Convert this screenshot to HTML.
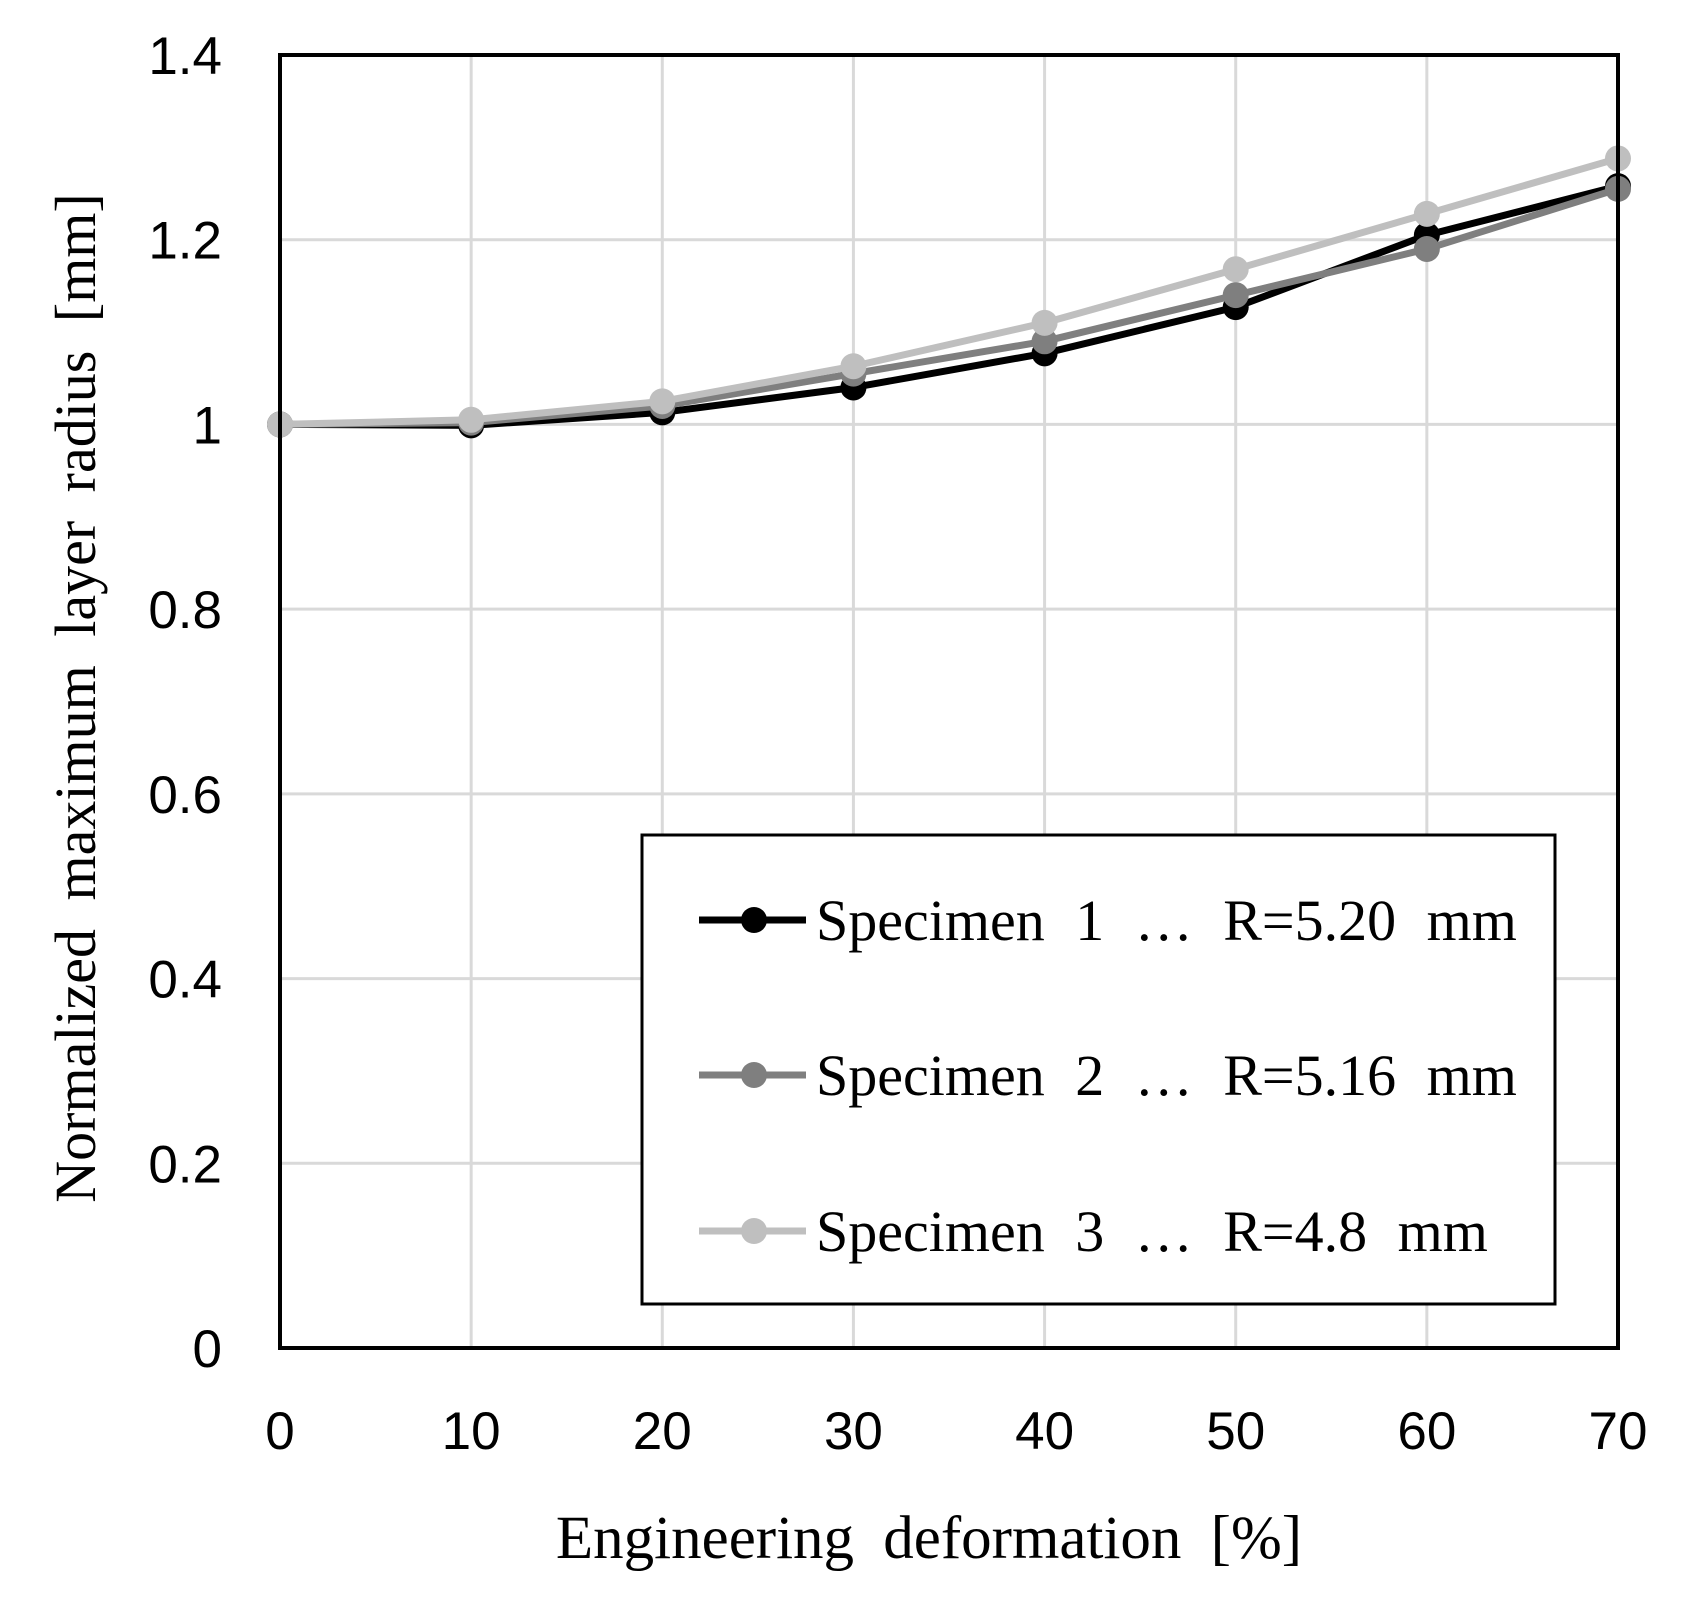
<!DOCTYPE html>
<html><head><meta charset="utf-8"><style>
html,body{margin:0;padding:0;background:#fff;}
svg{display:block;}
</style></head><body>
<svg id="chart" width="1682" height="1597" viewBox="0 0 1682 1597" xmlns="http://www.w3.org/2000/svg">
<g id="grid"></g>
<g id="series"></g>
<rect x="280" y="55" width="1338" height="1293" fill="none" stroke="#000" stroke-width="4"/>
<g id="ticks"></g>
<text x="929" y="1558" text-anchor="middle" font-family="Liberation Serif, serif" font-size="61" word-spacing="14">Engineering deformation [%]</text>
<text transform="translate(95,698) rotate(-90)" text-anchor="middle" font-family="Liberation Serif, serif" font-size="58" word-spacing="14">Normalized maximum layer radius [mm]</text>
<g>
<rect x="642" y="835" width="913" height="469" fill="#fff" stroke="#000" stroke-width="3"/>
<g id="legend-entries"></g>
</g>
</svg>
<script>
const categories=[0,10,20,30,40,50,60,70];
const yTicks=[0,0.2,0.4,0.6,0.8,1,1.2,1.4];
const yTickLabels=["0","0.2","0.4","0.6","0.8","1","1.2","1.4"];
const s1=[1,0.999,1.013,1.04,1.077,1.127,1.205,1.258];
const s2=[1,1.002,1.02,1.055,1.09,1.14,1.19,1.255];
const s3=[1,1.005,1.025,1.063,1.11,1.168,1.228,1.288];
const seriesNames=["Specimen 1 … R=5.20 mm","Specimen 2 … R=5.16 mm","Specimen 3 … R=4.8 mm"];
const NS="http://www.w3.org/2000/svg";
const L=280,R=1618,T=55,B=1348;
const xs=v=>L+(v-0)/(70-0)*(R-L);
const ys=v=>B-(v-0)/(1.4-0)*(B-T);
function mk(tag,attrs,parent){const e=document.createElementNS(NS,tag);for(const k in attrs)e.setAttribute(k,attrs[k]);parent.appendChild(e);return e;}
const grid=document.getElementById('grid'),ticks=document.getElementById('ticks');
categories.forEach(c=>{
 const l=mk('line',{x1:xs(c),x2:xs(c),y1:T,y2:B,stroke:'#d9d9d9','stroke-width':3},grid);
 
 
 const t=mk('text',{x:xs(c),y:1449,'text-anchor':'middle','font-family':'Liberation Sans, sans-serif','font-size':53},ticks);
 t.textContent=String(c);
 
 
});
yTicks.forEach((v,i)=>{
 const l=mk('line',{x1:L,x2:R,y1:ys(v),y2:ys(v),stroke:'#d9d9d9','stroke-width':3},grid);
 
 
 const t=mk('text',{x:222,y:ys(v)+19,'text-anchor':'end','font-family':'Liberation Sans, sans-serif','font-size':53},ticks);
 t.textContent=yTickLabels[i];
 
 
});
const allSeries=[s1,s2,s3];
const colors=['#000000','#7f7f7f','#bfbfbf'];
const sg=document.getElementById('series');
allSeries.forEach((s,k)=>{
 const g=mk('g',{},sg);
 
 
 const p=mk('polyline',{points:s.map((v,i)=>xs(categories[i])+','+ys(v)).join(' '),fill:'none',stroke:colors[k],'stroke-width':7,'stroke-linejoin':'round'},g);
 
 
 s.forEach((v,i)=>{
  const c=mk('circle',{cx:xs(categories[i]),cy:ys(v),r:13,fill:colors[k]},g);
  
  
 });
});
const le=document.getElementById('legend-entries');
const ly=[920,1075,1231];
seriesNames.forEach((n,k)=>{
 const g=mk('g',{},le);
 
 
 mk('line',{x1:699,x2:806,y1:ly[k],y2:ly[k],stroke:colors[k],'stroke-width':7},g);
 mk('circle',{cx:754,cy:ly[k],r:13,fill:colors[k]},g);
 const t=mk('text',{x:816,y:ly[k]+20,'font-family':'Liberation Serif, serif','font-size':58,'word-spacing':16},g);
 t.textContent=n;
});
</script>
</body></html>
